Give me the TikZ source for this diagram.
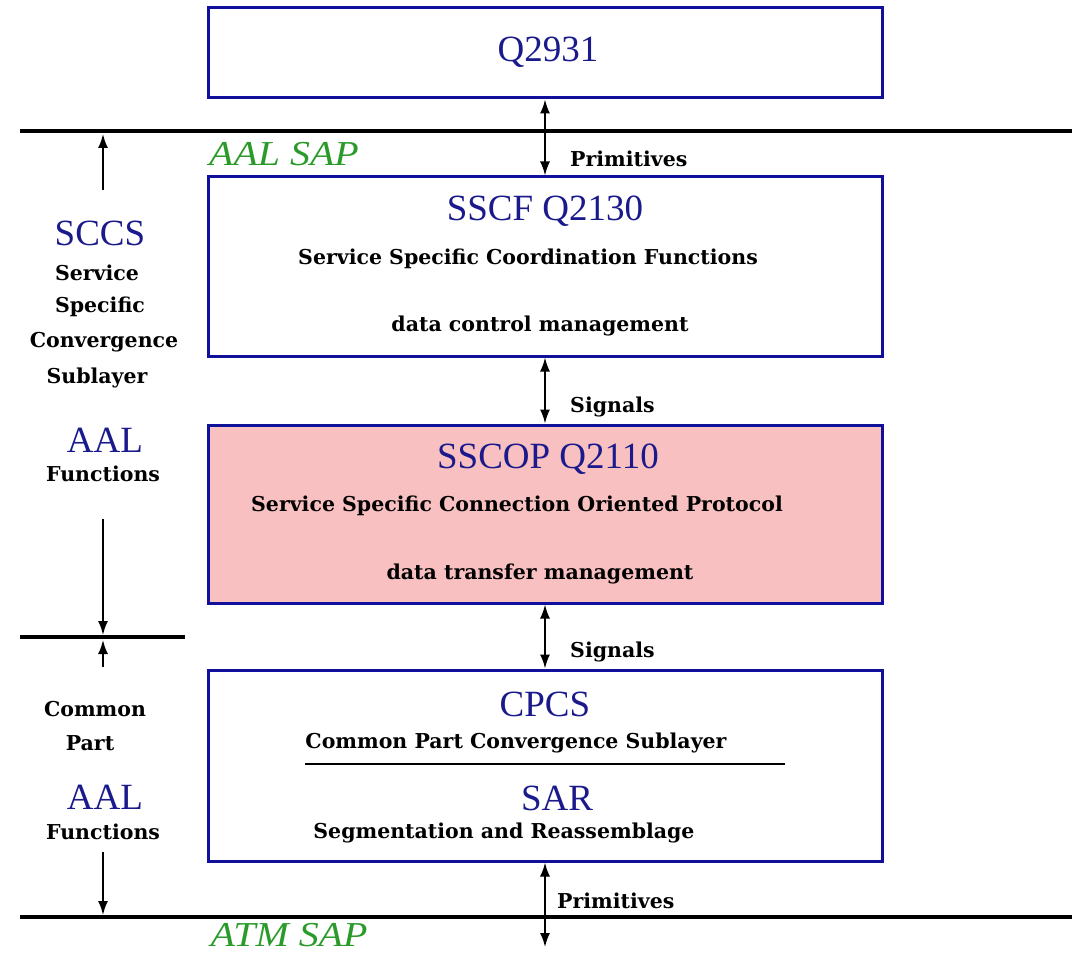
\documentclass[tikz,border=0pt]{standalone}
\usepackage{fontspec}
\setmainfont{Liberation Serif}
\newfontfamily\lblfont{DejaVu Serif}
\usetikzlibrary{arrows.meta}
\definecolor{boxblue}{HTML}{10109A}
\definecolor{headblue}{HTML}{1A1A8C}
\definecolor{sapgreen}{HTML}{2A9A2A}
\definecolor{pinkfill}{HTML}{F8C0C0}
\newcommand{\widen}[1]{\scalebox{1.14}[1]{#1}}
\tikzset{
  layerbox/.style={draw=boxblue, line width=3pt, minimum width=674pt, inner sep=0pt},
  heading/.style={text=headblue, font=\fontsize{37}{40}\selectfont, inner sep=0pt},
  body/.style={text=black, font=\lblfont\bfseries\fontsize{20.5}{24}\selectfont, inner sep=0pt},
  sap/.style={text=sapgreen, font=\itshape\fontsize{35}{38}\selectfont, inner sep=0pt, anchor=base},
  dblarrow/.style={{Latex[length=14pt,width=10pt]}-{Latex[length=14pt,width=10pt]}, line width=1.8pt},
  onearrow/.style={-{Latex[length=14pt,width=10pt]}, line width=1.8pt},
  sapline/.style={line width=3.5pt},
}
\begin{document}
\begin{tikzpicture}[x=1pt,y=-1pt]
\useasboundingbox (0,0) rectangle (1072,955);

% protocol layer boxes
\node[layerbox, minimum height=90pt] (q2931) at (545,53) {};
\node[layerbox, minimum height=179pt] (sscf) at (545,266.5) {};
\node[layerbox, minimum height=178pt, fill=pinkfill] (sscop) at (545,514) {};
\node[layerbox, minimum height=191pt] (cpcs) at (545,765.5) {};

% box contents
\node[heading] (tq) at (548,52) {Q2931};
\node[heading] (tsscf) at (545,211) {SSCF Q2130};
\node[body] (tsscfa) at (528,259) {Service Specific Coordination Functions};
\node[body] (tsscfb) at (540,326) {data control management};
\node[heading] (tsscop) at (548,459) {SSCOP Q2110};
\node[body] (tsscopa) at (517,506) {Service Specific Connection Oriented Protocol};
\node[body] (tsscopb) at (540,574) {data transfer management};
\node[heading] (tcpcs) at (545,704) {CPCS};
\node[body] (tcpcsa) at (516,743) {Common Part Convergence Sublayer};
\coordinate (divl) at (305,764);
\coordinate (divr) at (785,764);
\draw[line width=2.5pt] (divl) -- (divr);
\node[heading] (tsar) at (557,798) {SAR};
\node[body] (tsara) at (504,833) {Segmentation and Reassemblage};

% service access point lines
\coordinate (topl) at (20,131);
\coordinate (topr) at (1072,131);
\coordinate (midl) at (20,637);
\coordinate (midr) at (185,637);
\coordinate (botl) at (20,917);
\coordinate (botr) at (1072,917);
\draw[sapline] (topl) -- (topr);
\draw[sapline] (midl) -- (midr);
\draw[sapline] (botl) -- (botr);
\node[sap] (aalsap) at (284,166) {\widen{AAL SAP}};
\node[sap] (atmsap) at (289,946) {\widen{ATM SAP}};

% interfaces between layers
\coordinate (atmend) at (545,947);
\draw[dblarrow] (q2931.south) -- (sscf.north);
\draw[dblarrow] (sscf.south) -- (sscop.north);
\draw[dblarrow] (sscop.south) -- (cpcs.north);
\draw[dblarrow] (cpcs.south) -- (atmend);
\node[body, anchor=west] (prim1) at (570,159) {Primitives};
\node[body, anchor=west] (sig1) at (570,407) {Signals};
\node[body, anchor=west] (sig2) at (570,652) {Signals};
\node[body, anchor=west] (prim2) at (557,901) {Primitives};

% sublayer annotations
\node[heading] (sccs) at (100,233) {SCCS};
\node[body] (l1) at (97,273) {Service};
\node[body] (l2) at (100,307) {Specific};
\node[body] (l3) at (104,342) {Convergence};
\node[body] (l4) at (97,378) {Sublayer};
\node[heading] (aal1) at (105,440) {AAL};
\node[body] (l5) at (103,474) {Functions};
\node[body] (l6) at (95,709) {Common};
\node[body] (l7) at (90,743) {Part};
\node[heading] (aal2) at (105,797) {AAL};
\node[body] (l8) at (103,832) {Functions};

\coordinate (a1s) at (103,190);
\coordinate (a1e) at (103,134);
\coordinate (a2s) at (103,519);
\coordinate (a2e) at (103,635);
\coordinate (a3s) at (103,667);
\coordinate (a3e) at (103,640);
\coordinate (a4s) at (103,852);
\coordinate (a4e) at (103,915);
\draw[onearrow] (a1s) -- (a1e);
\draw[onearrow] (a2s) -- (a2e);
\draw[onearrow] (a3s) -- (a3e);
\draw[onearrow] (a4s) -- (a4e);
\end{tikzpicture}
\end{document}
